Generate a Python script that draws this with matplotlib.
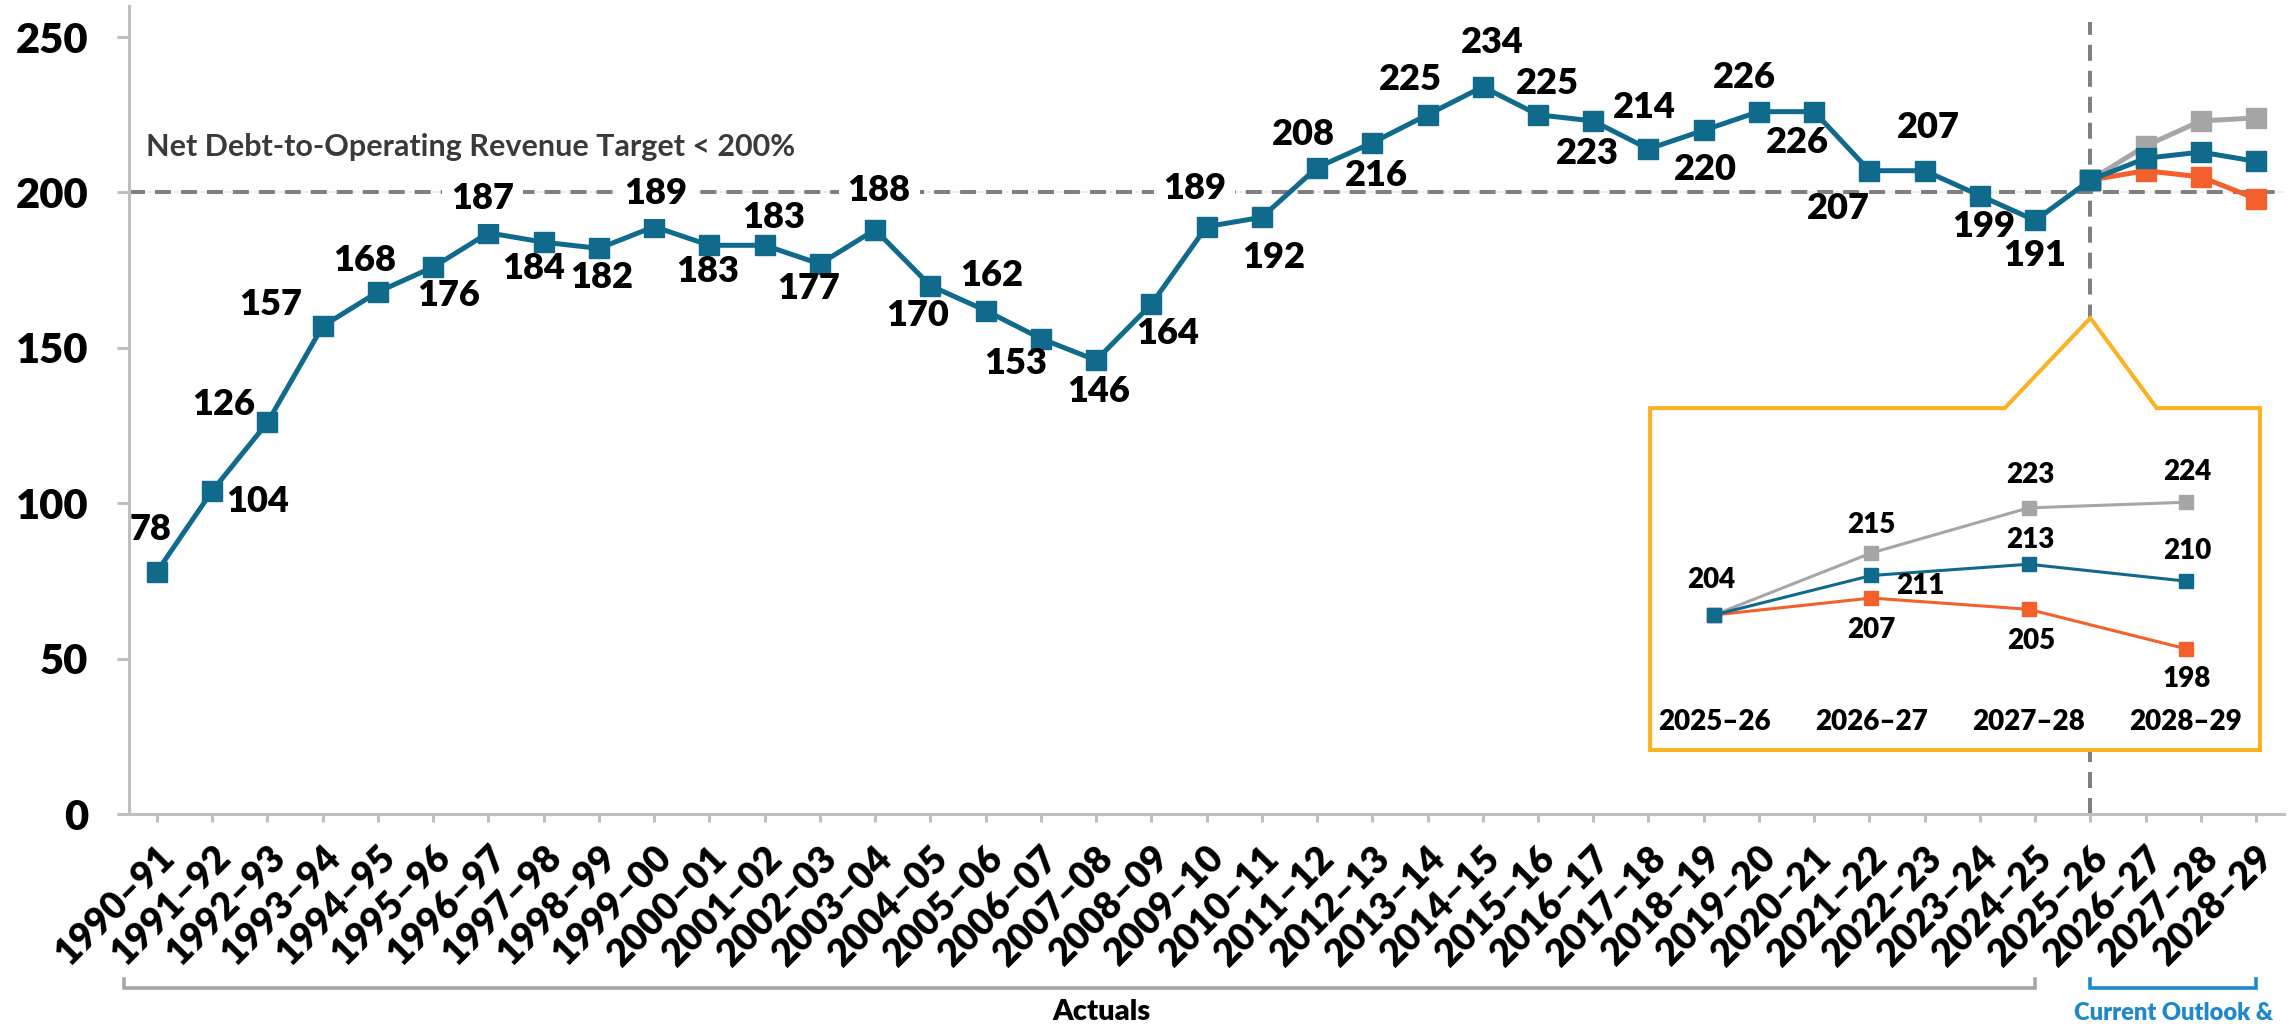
import matplotlib
matplotlib.use('Agg')
import matplotlib.pyplot as plt
from matplotlib import font_manager
from matplotlib.patches import Polygon
from matplotlib.transforms import blended_transform_factory

# ---------------- data ----------------
years = ['1990–91', '1991–92', '1992–93', '1993–94', '1994–95', '1995–96', '1996–97',
         '1997–98', '1998–99', '1999–00', '2000–01', '2001–02', '2002–03', '2003–04',
         '2004–05', '2005–06', '2006–07', '2007–08', '2008–09', '2009–10', '2010–11',
         '2011–12', '2012–13', '2013–14', '2014–15', '2015–16', '2016–17', '2017–18',
         '2018–19', '2019–20', '2020–21', '2021–22', '2022–23', '2023–24', '2024–25',
         '2025–26', '2026–27', '2027–28', '2028–29']
actuals = [78, 104, 126, 157, 168, 176, 187, 184, 182, 189, 183, 183, 177, 188, 170,
           162, 153, 146, 164, 189, 192, 208, 216, 225, 234, 225, 223, 214, 220, 226,
           226, 207, 207, 199, 191, 204]
outlook_years = ['2025–26', '2026–27', '2027–28', '2028–29']
outlook_current = [204, 211, 213, 210]
outlook_high = [204, 215, 223, 224]
outlook_low = [204, 207, 205, 198]
target = 200

# label offsets (pixels, dx right, dy down) for the data labels
label_offsets = [(-6, -42), (45, 11), (-44, -18), (-52, -22), (-13, -31), (15, 28),
                 (-6, -34), (-10, 26), (3, 29), (2, -33), (-2, 26), (9, -28), (-11, 25),
                 (4, -39), (-13, 30), (6, -35), (-25, 25), (3, 31), (16, 29), (-12, -38),
                 (12, 40), (-14, -33), (4, 33), (-17, -35), (10, -44), (9, -31), (-6, 33),
                 (-4, -41), (2, 39), (-15, -34), (-17, 31), (-31, 38), (4, -43), (4, 31),
                 (0, 35), None]
inset_off_current = [(-3, -35), (49, 11), (2, -24), (1, -30)]
inset_off_high = [None, (0, -28), (2, -33), (1, -30)]
inset_off_low = [None, (0, 32), (3, 32), (1, 30)]

# ---------------- style ----------------
avail = {f.name for f in font_manager.fontManager.ttflist}
FONT = 'Lato' if 'Lato' in avail else 'Liberation Sans'
plt.rcParams['font.family'] = [FONT, 'DejaVu Sans']
plt.rcParams['font.weight'] = 'heavy'
plt.rcParams['lines.scale_dashes'] = False

BLUE = '#0F6A8C'
ORANGE = '#F4602C'
GREY = '#A6A6A6'
DASH = '#808080'
AXIS = '#BFBFBF'
GOLD = '#FBB121'
LBLUE = '#1F88CC'

W, H = 2293, 1027
fig = plt.figure(figsize=(W / 100, H / 100), dpi=100)
L, R, T, B = 129.4, 2283.7, 6, 814
ax = fig.add_axes([L / W, 1 - B / H, (R - L) / W, (B - T) / H])
ax.set_xlim(-0.5, len(years) - 0.5)
ax.set_ylim(0, 260)

for s in ['top', 'right']:
    ax.spines[s].set_visible(False)
for s in ['left', 'bottom']:
    ax.spines[s].set_color(AXIS)
    ax.spines[s].set_linewidth(2.2)

ax.set_yticks([0, 50, 100, 150, 200, 250])
ax.tick_params(axis='y', length=8.6, width=2.2, color=AXIS, pad=21, labelsize=30)
ax.set_xticks(range(len(years)))
ax.set_xticklabels(years, rotation=45, ha='right', rotation_mode='anchor')
ax.tick_params(axis='x', length=5.8, width=2.2, color=AXIS, pad=13, labelsize=27)

# target line
ax.axhline(target, color='#EDEDED', lw=1.2, zorder=1)
ax.axhline(target, color=DASH, lw=2.9, dashes=(11.5, 7.2), zorder=2)
ax.text(-0.2, 214.6, 'Net Debt-to-Operating Revenue Target < 200%', fontsize=22,
        color='#3A3A3A', weight='bold', ha='left', va='center', zorder=3)

# forecast divider
i0 = years.index(outlook_years[0])
ax.axvline(i0, ymin=0, ymax=254.8 / 260, color=DASH, lw=2.9, dashes=(11.5, 7.2), zorder=2)

xo = [years.index(y) for y in outlook_years]
ax.plot(xo, outlook_low, color=ORANGE, lw=3.6, marker='s', ms=14, zorder=4)
ax.plot(xo, outlook_high, color=GREY, lw=3.6, marker='s', ms=14, zorder=4)
ax.plot(xo, outlook_current, color=BLUE, lw=3.6, marker='s', ms=14, zorder=4)
ax.plot(range(len(actuals)), actuals, color=BLUE, lw=3.6, marker='s', ms=14.4, zorder=5)

# data labels
line_px = ax.transData.transform((0, target))[1]
for i, (v, off) in enumerate(zip(actuals, label_offsets)):
    if off is None:
        continue
    py = ax.transData.transform((i, v))[1] - off[1]
    kw = {}
    if abs(py - line_px) < 12:
        kw['bbox'] = dict(boxstyle='square,pad=0.25', fc='white', ec='none')
    ax.annotate(str(v), (i, v), xytext=(off[0], -off[1]), textcoords='offset pixels',
                ha='center', va='center', fontsize=26, color='black', zorder=7,
                annotation_clip=False, **kw)

# callout box
callout = Polygon([(27.03, 130.6), (33.45, 130.6), (i0, 159.6), (36.2, 130.6),
                   (38.07, 130.6), (38.07, 20.6), (27.03, 20.6)], closed=True,
                  fc='white', ec=GOLD, lw=2.9, joinstyle='miter', zorder=8, clip_on=False)
ax.add_patch(callout)

# brackets and group labels
bt = blended_transform_factory(ax.transData, ax.transAxes)
ax.plot([-0.6, -0.6, i0 - 1, i0 - 1], [-0.2042, -0.2153, -0.2153, -0.2042], color=GREY,
        lw=2.6, transform=bt, clip_on=False, solid_joinstyle='miter')
ax.plot([i0, i0, xo[-1], xo[-1]], [-0.2042, -0.2153, -0.2153, -0.2042], color=LBLUE,
        lw=2.6, transform=bt, clip_on=False, solid_joinstyle='miter')
ax.text(17.1, -0.245, 'Actuals', transform=bt, ha='center', va='center', fontsize=21,
        color='black')
ax.text(34.7, -0.246, 'Current Outlook &', transform=bt, ha='left',
        va='center', fontsize=17, color=LBLUE)

# inset
ix0, ix1, iy0, iy1 = 1667, 2233, 420, 700
axi = fig.add_axes([ix0 / W, 1 - iy1 / H, (ix1 - ix0) / W, (iy1 - iy0) / H], zorder=10)
axi.patch.set_alpha(0)
axi.set_xlim(-0.3, 3.3)
axi.set_ylim(188.9, 238.6)
for s in axi.spines.values():
    s.set_visible(False)
axi.set_yticks([])
xi = range(len(outlook_years))
axi.set_xticks(list(xi))
axi.set_xticklabels(outlook_years)
axi.tick_params(axis='x', length=0, pad=6.5, labelsize=20)
axi.plot(xi, outlook_high, color=GREY, lw=2.2, marker='s', ms=10)
axi.plot(xi, outlook_low, color=ORANGE, lw=2.2, marker='s', ms=10)
axi.plot(xi, outlook_current, color=BLUE, lw=2.2, marker='s', ms=10)
for vals, offs in [(outlook_current, inset_off_current), (outlook_high, inset_off_high),
                   (outlook_low, inset_off_low)]:
    for i, (v, off) in enumerate(zip(vals, offs)):
        if off is None:
            continue
        axi.annotate(str(v), (i, v), xytext=(off[0], -off[1]), textcoords='offset pixels',
                     ha='center', va='center', fontsize=20, color='black',
                     annotation_clip=False)

fig.savefig('out.png', dpi=100)
